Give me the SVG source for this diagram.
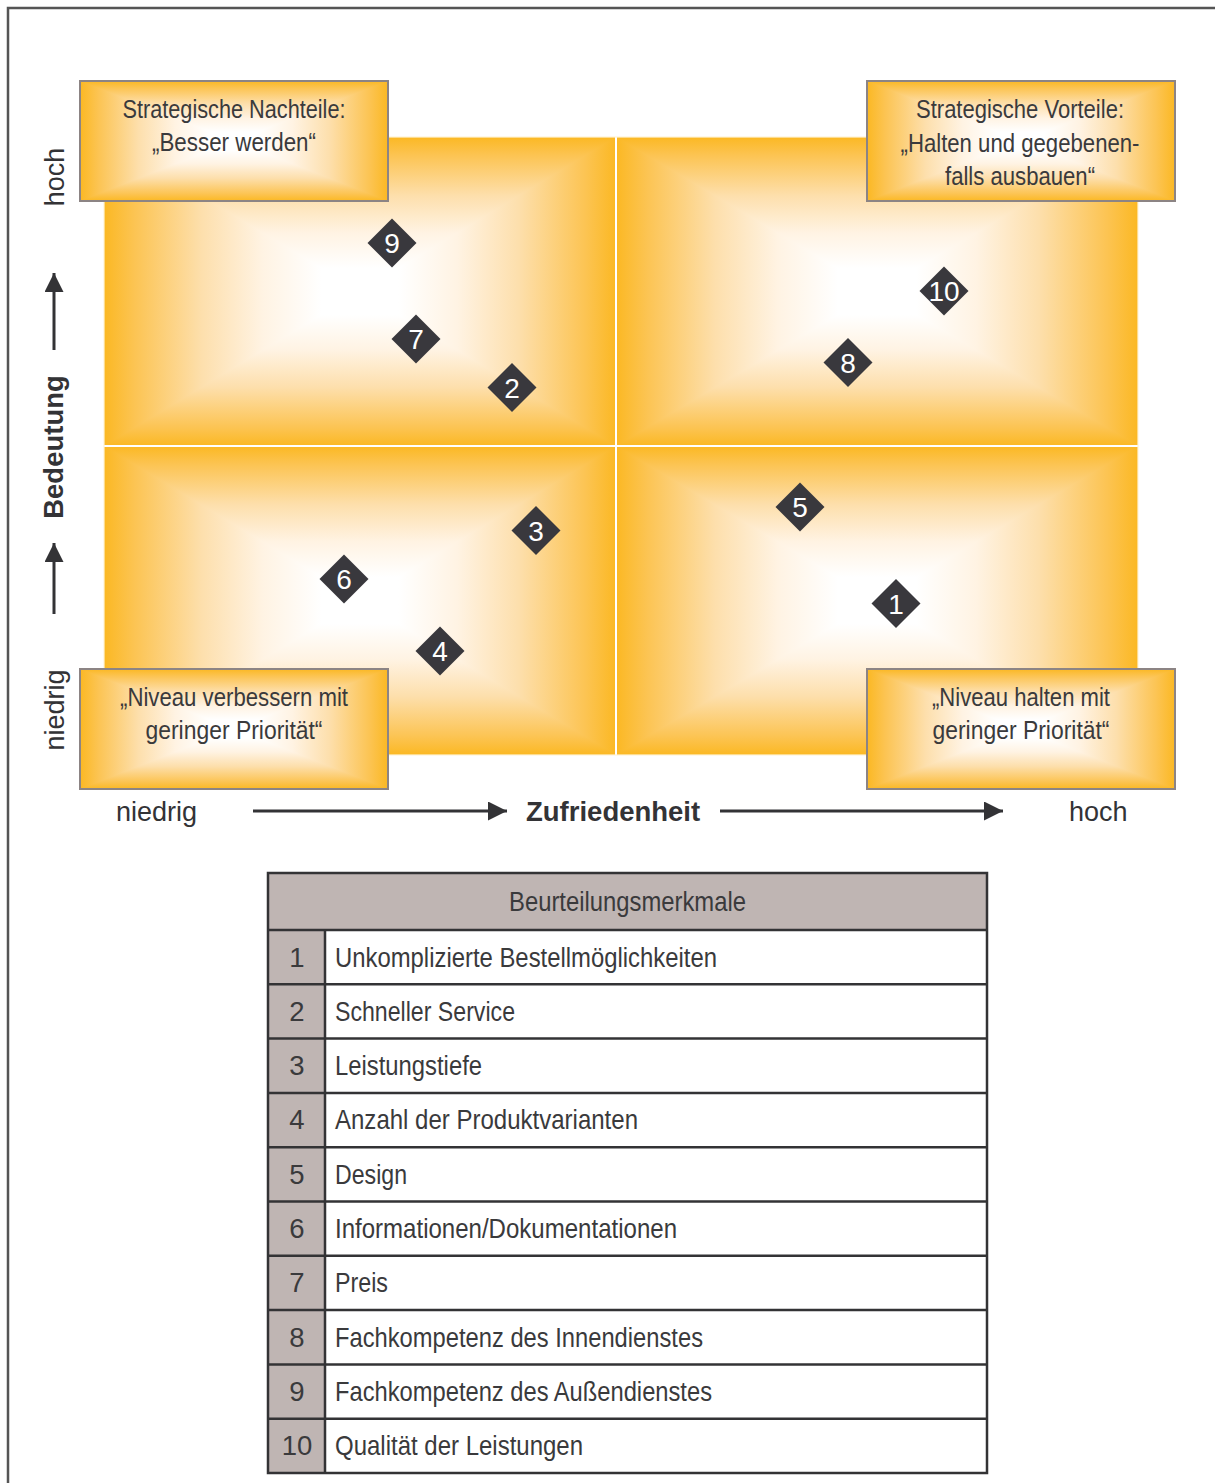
<svg xmlns="http://www.w3.org/2000/svg" width="1215" height="1483" viewBox="0 0 1215 1483">
<style>
.cond{font-family:"Liberation Sans Narrow","Liberation Sans",Arial,sans-serif;fill:#3a3a3c}
.ax{font-family:"Liberation Sans",Arial,sans-serif;fill:#333336;font-size:27px}
.axb{font-family:"Liberation Sans",Arial,sans-serif;fill:#333336;font-size:27.5px;font-weight:bold}
.lbl{font-size:26.5px;text-anchor:middle}
.row{font-size:27.5px}
.num{font-size:27.5px;text-anchor:middle}
.dia{fill:#39383d}
.dnum{font-family:"Liberation Sans Narrow","Liberation Sans",Arial,sans-serif;fill:#fff;font-size:28px;text-anchor:middle}
.box{fill:none;stroke:#8c8484;stroke-width:2}
.arr{stroke:#333336;stroke-width:3;fill:none;marker-end:url(#ah)}
.tb{stroke:#333335;stroke-width:2.5;fill:none}
.gray{fill:#bfb5b3}
polygon.g{shape-rendering:crispEdges}
</style>
<defs>
<linearGradient id="gT" x1="0" y1="0" x2="0" y2="1"><stop offset="0" stop-color="#fbb823"/><stop offset="0.12" stop-color="#fcc453"/><stop offset="0.38" stop-color="#fddfac"/><stop offset="0.62" stop-color="#fff3e3"/><stop offset="0.85" stop-color="#ffffff"/></linearGradient>
<linearGradient id="gB" x1="0" y1="1" x2="0" y2="0"><stop offset="0" stop-color="#fbb823"/><stop offset="0.12" stop-color="#fcc453"/><stop offset="0.38" stop-color="#fddfac"/><stop offset="0.62" stop-color="#fff3e3"/><stop offset="0.85" stop-color="#ffffff"/></linearGradient>
<linearGradient id="gL" x1="0" y1="0" x2="1" y2="0"><stop offset="0" stop-color="#fbb823"/><stop offset="0.12" stop-color="#fcc453"/><stop offset="0.38" stop-color="#fddfac"/><stop offset="0.62" stop-color="#fff3e3"/><stop offset="0.85" stop-color="#ffffff"/></linearGradient>
<linearGradient id="gR" x1="1" y1="0" x2="0" y2="0"><stop offset="0" stop-color="#fbb823"/><stop offset="0.12" stop-color="#fcc453"/><stop offset="0.38" stop-color="#fddfac"/><stop offset="0.62" stop-color="#fff3e3"/><stop offset="0.85" stop-color="#ffffff"/></linearGradient>
<marker id="ah" markerUnits="userSpaceOnUse" markerWidth="20" markerHeight="20" refX="19" refY="9.5" orient="auto"><path d="M0,0 L19,9.5 L0,19 z" fill="#333336"/></marker>
</defs>
<rect width="1215" height="1483" fill="#fff"/>
<path d="M8,1483 V8 H1215" fill="none" stroke="#555" stroke-width="2.5"/>

<g id="quadrant-tl">
<polygon class="g" points="104,137 616,137 360,291.5" fill="url(#gT)"/>
<polygon class="g" points="104,446 616,446 360,291.5" fill="url(#gB)"/>
<polygon class="g" points="104,137 104,446 360,291.5" fill="url(#gL)"/>
<polygon class="g" points="616,137 616,446 360,291.5" fill="url(#gR)"/>
</g>
<g id="quadrant-tr">
<polygon class="g" points="616,137 1138,137 877,291.5" fill="url(#gT)"/>
<polygon class="g" points="616,446 1138,446 877,291.5" fill="url(#gB)"/>
<polygon class="g" points="616,137 616,446 877,291.5" fill="url(#gL)"/>
<polygon class="g" points="1138,137 1138,446 877,291.5" fill="url(#gR)"/>
</g>
<g id="quadrant-bl">
<polygon class="g" points="104,446 616,446 360,600.5" fill="url(#gT)"/>
<polygon class="g" points="104,755 616,755 360,600.5" fill="url(#gB)"/>
<polygon class="g" points="104,446 104,755 360,600.5" fill="url(#gL)"/>
<polygon class="g" points="616,446 616,755 360,600.5" fill="url(#gR)"/>
</g>
<g id="quadrant-br">
<polygon class="g" points="616,446 1138,446 877,600.5" fill="url(#gT)"/>
<polygon class="g" points="616,755 1138,755 877,600.5" fill="url(#gB)"/>
<polygon class="g" points="616,446 616,755 877,600.5" fill="url(#gL)"/>
<polygon class="g" points="1138,446 1138,755 877,600.5" fill="url(#gR)"/>
</g>
<g id="quadrant-lines" fill="none" stroke="#fff" stroke-width="2">
<line x1="616" y1="137" x2="616" y2="755"/>
<line x1="104" y1="446" x2="1138" y2="446"/>
<rect x="104" y="137" width="1034" height="618" stroke-width="1.2" stroke="#fff3d8"/>
</g>

<g id="label-tl">
<polygon class="g" points="80,81 388,81 234,141" fill="url(#gT)"/>
<polygon class="g" points="80,201 388,201 234,141" fill="url(#gB)"/>
<polygon class="g" points="80,81 80,201 234,141" fill="url(#gL)"/>
<polygon class="g" points="388,81 388,201 234,141" fill="url(#gR)"/>
<rect class="box" x="80" y="81" width="308" height="120"/>
<text class="cond lbl" x="234" y="118" textLength="223" lengthAdjust="spacingAndGlyphs">Strategische Nachteile:</text>
<text class="cond lbl" x="234" y="151" textLength="164" lengthAdjust="spacingAndGlyphs">„Besser werden“</text>
</g>
<g id="label-tr">
<polygon class="g" points="867,81 1175,81 1021,141" fill="url(#gT)"/>
<polygon class="g" points="867,201 1175,201 1021,141" fill="url(#gB)"/>
<polygon class="g" points="867,81 867,201 1021,141" fill="url(#gL)"/>
<polygon class="g" points="1175,81 1175,201 1021,141" fill="url(#gR)"/>
<rect class="box" x="867" y="81" width="308" height="120"/>
<text class="cond lbl" x="1020" y="118" textLength="208" lengthAdjust="spacingAndGlyphs">Strategische Vorteile:</text>
<text class="cond lbl" x="1020" y="152" textLength="239" lengthAdjust="spacingAndGlyphs">„Halten und gegebenen-</text>
<text class="cond lbl" x="1020" y="185" textLength="150" lengthAdjust="spacingAndGlyphs">falls ausbauen“</text>
</g>
<g id="label-bl">
<polygon class="g" points="80,669 388,669 234,729" fill="url(#gT)"/>
<polygon class="g" points="80,789 388,789 234,729" fill="url(#gB)"/>
<polygon class="g" points="80,669 80,789 234,729" fill="url(#gL)"/>
<polygon class="g" points="388,669 388,789 234,729" fill="url(#gR)"/>
<rect class="box" x="80" y="669" width="308" height="120"/>
<text class="cond lbl" x="234" y="706" textLength="228" lengthAdjust="spacingAndGlyphs">„Niveau verbessern mit</text>
<text class="cond lbl" x="234" y="739" textLength="177" lengthAdjust="spacingAndGlyphs">geringer Priorität“</text>
</g>
<g id="label-br">
<polygon class="g" points="867,669 1175,669 1021,729" fill="url(#gT)"/>
<polygon class="g" points="867,789 1175,789 1021,729" fill="url(#gB)"/>
<polygon class="g" points="867,669 867,789 1021,729" fill="url(#gL)"/>
<polygon class="g" points="1175,669 1175,789 1021,729" fill="url(#gR)"/>
<rect class="box" x="867" y="669" width="308" height="120"/>
<text class="cond lbl" x="1021" y="706" textLength="178" lengthAdjust="spacingAndGlyphs">„Niveau halten mit</text>
<text class="cond lbl" x="1021" y="739" textLength="177" lengthAdjust="spacingAndGlyphs">geringer Priorität“</text>
</g>

<g id="markers">
<g id="m9"><polygon class="dia" points="392,218.5 416.5,243 392,267.5 367.5,243"/><text class="dnum" x="392" y="253">9</text></g>
<g id="m7"><polygon class="dia" points="416,314.5 440.5,339 416,363.5 391.5,339"/><text class="dnum" x="416" y="349">7</text></g>
<g id="m2"><polygon class="dia" points="512,363 536.5,387.5 512,412 487.5,387.5"/><text class="dnum" x="512" y="397.5">2</text></g>
<g id="m3"><polygon class="dia" points="536,506 560.5,530.5 536,555 511.5,530.5"/><text class="dnum" x="536" y="540.5">3</text></g>
<g id="m6"><polygon class="dia" points="344,554.5 368.5,579 344,603.5 319.5,579"/><text class="dnum" x="344" y="589">6</text></g>
<g id="m4"><polygon class="dia" points="440,626.5 464.5,651 440,675.5 415.5,651"/><text class="dnum" x="440" y="661">4</text></g>
<g id="m10"><polygon class="dia" points="944,266.5 968.5,291 944,315.5 919.5,291"/><text class="dnum" x="944" y="301">10</text></g>
<g id="m8"><polygon class="dia" points="848,338 872.5,362.5 848,387 823.5,362.5"/><text class="dnum" x="848" y="372.5">8</text></g>
<g id="m5"><polygon class="dia" points="800,482.5 824.5,507 800,531.5 775.5,507"/><text class="dnum" x="800" y="517">5</text></g>
<g id="m1"><polygon class="dia" points="896,579 920.5,603.5 896,628 871.5,603.5"/><text class="dnum" x="896" y="613.5">1</text></g>
</g>

<g id="axis-labels">
<text class="ax" transform="translate(64,177) rotate(-90)" text-anchor="middle">hoch</text>
<text class="axb" transform="translate(63,447) rotate(-90)" text-anchor="middle">Bedeutung</text>
<text class="ax" transform="translate(64,710) rotate(-90)" text-anchor="middle">niedrig</text>
<text class="ax" x="116" y="821">niedrig</text>
<text class="axb" x="526" y="821">Zufriedenheit</text>
<text class="ax" x="1069" y="821">hoch</text>
</g>

<g id="connectors">
<line class="arr" x1="54" y1="350" x2="54" y2="273"/>
<line class="arr" x1="54" y1="614" x2="54" y2="543"/>
<line class="arr" x1="253" y1="811" x2="507" y2="811"/>
<line class="arr" x1="720" y1="811" x2="1003" y2="811"/>
</g>

<g id="table">
<rect class="gray" x="268" y="873" width="719" height="57"/>
<rect class="gray" x="268" y="930" width="57" height="543"/>
<rect x="325" y="930" width="662" height="543" fill="#fff"/>
<g class="tb">
<rect x="268" y="873" width="719" height="600"/>
<line x1="268" y1="930" x2="987" y2="930"/>
<line x1="268" y1="984.3" x2="987" y2="984.3"/>
<line x1="268" y1="1038.6" x2="987" y2="1038.6"/>
<line x1="268" y1="1092.9" x2="987" y2="1092.9"/>
<line x1="268" y1="1147.2" x2="987" y2="1147.2"/>
<line x1="268" y1="1201.5" x2="987" y2="1201.5"/>
<line x1="268" y1="1255.8" x2="987" y2="1255.8"/>
<line x1="268" y1="1310.1" x2="987" y2="1310.1"/>
<line x1="268" y1="1364.4" x2="987" y2="1364.4"/>
<line x1="268" y1="1418.7" x2="987" y2="1418.7"/>
<line x1="325" y1="930" x2="325" y2="1473"/>
</g>
<text class="cond row" x="627.5" y="911" text-anchor="middle" textLength="237" lengthAdjust="spacingAndGlyphs">Beurteilungsmerkmale</text>
<text class="cond num" x="297" y="966.5">1</text>
<text class="cond num" x="297" y="1020.8">2</text>
<text class="cond num" x="297" y="1075.1">3</text>
<text class="cond num" x="297" y="1129.4">4</text>
<text class="cond num" x="297" y="1183.7">5</text>
<text class="cond num" x="297" y="1238">6</text>
<text class="cond num" x="297" y="1292.3">7</text>
<text class="cond num" x="297" y="1346.6">8</text>
<text class="cond num" x="297" y="1400.9">9</text>
<text class="cond num" x="297" y="1455.2">10</text>
<text class="cond row" x="335" y="966.5" textLength="382" lengthAdjust="spacingAndGlyphs">Unkomplizierte Bestellmöglichkeiten</text>
<text class="cond row" x="335" y="1020.8" textLength="180" lengthAdjust="spacingAndGlyphs">Schneller Service</text>
<text class="cond row" x="335" y="1075.1" textLength="147" lengthAdjust="spacingAndGlyphs">Leistungstiefe</text>
<text class="cond row" x="335" y="1129.4" textLength="303" lengthAdjust="spacingAndGlyphs">Anzahl der Produktvarianten</text>
<text class="cond row" x="335" y="1183.7" textLength="72" lengthAdjust="spacingAndGlyphs">Design</text>
<text class="cond row" x="335" y="1238" textLength="342" lengthAdjust="spacingAndGlyphs">Informationen/Dokumentationen</text>
<text class="cond row" x="335" y="1292.3" textLength="53" lengthAdjust="spacingAndGlyphs">Preis</text>
<text class="cond row" x="335" y="1346.6" textLength="368" lengthAdjust="spacingAndGlyphs">Fachkompetenz des Innendienstes</text>
<text class="cond row" x="335" y="1400.9" textLength="377" lengthAdjust="spacingAndGlyphs">Fachkompetenz des Außendienstes</text>
<text class="cond row" x="335" y="1455.2" textLength="248" lengthAdjust="spacingAndGlyphs">Qualität der Leistungen</text>
</g>
</svg>
